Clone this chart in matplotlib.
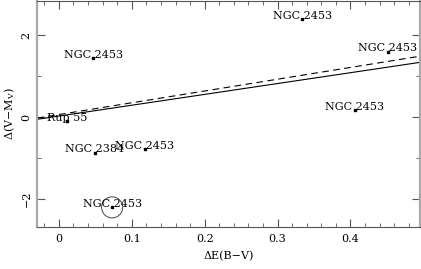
import numpy as np
import matplotlib
matplotlib.use('Agg')
import matplotlib.pyplot as plt
from matplotlib.ticker import MultipleLocator

plt.rcParams['font.family'] = ['DejaVu Serif']
plt.rcParams['mathtext.fontset'] = 'dejavuserif'

# cluster points
names = ['NGC 2453', 'NGC 2453', 'NGC 2453', 'NGC 2453', 'Rup 55',
         'NGC 2384', 'NGC 2453', 'NGC 2453']
dEBV = [0.047, 0.334, 0.451, 0.406, 0.011, 0.049, 0.118, 0.073]
dVM = [1.44, 2.39, 1.59, 0.17, -0.10, -0.87, -0.78, -2.20]
circled = 7

# fitted lines (end points)
fit_x = [-0.03, 0.495]
solid_y = [-0.05, 1.34]
dashed_y = [-0.02, 1.49]

fig = plt.figure(figsize=(4.21, 2.69), dpi=100)
ax = fig.add_axes([0.088, 0.156, 0.909, 0.842])

ax.plot(fit_x, solid_y, color='black', lw=0.8)
ax.plot(fit_x, dashed_y, color='black', lw=0.8, ls=(0, (6, 4)))
ax.scatter(dEBV, dVM, marker='s', s=4, color='black', zorder=3)
for n, x, y in zip(names, dEBV, dVM):
    ax.text(x, y + 0.09, n, ha='center', va='center', fontsize=8)
ax.scatter([dEBV[circled]], [dVM[circled]], s=230, facecolors='none',
           edgecolors='#444444', lw=0.7, zorder=2)

ax.set_xlim(-0.03, 0.495)
ax.set_ylim(-2.68, 2.85)
ax.xaxis.set_major_locator(MultipleLocator(0.1))
ax.xaxis.set_minor_locator(MultipleLocator(0.02))
ax.yaxis.set_major_locator(MultipleLocator(2))
ax.yaxis.set_minor_locator(MultipleLocator(1))
ax.set_xticks([0, 0.1, 0.2, 0.3, 0.4])
ax.set_xticklabels(['0', '0.1', '0.2', '0.3', '0.4'])
ax.set_yticks([-2, 0, 2])
ax.set_yticklabels(['\u22122', '0', '2'], rotation=90, va='center')
ax.tick_params(which='both', direction='in', top=True, right=True,
               labelsize=8, color='#555555')
ax.tick_params(which='major', length=6, width=0.8, pad=5)
ax.tick_params(axis='y', which='major', pad=4)
ax.tick_params(which='minor', length=3, width=0.6)

for s in ['left', 'right']:
    ax.spines[s].set_color('#aaaaaa')
    ax.spines[s].set_linewidth(1.6)
for s in ['top', 'bottom']:
    ax.spines[s].set_color('#555555')
    ax.spines[s].set_linewidth(0.8)

ax.set_xlabel('\u0394E(B\u2212V)', fontsize=8, labelpad=5)
ax.set_ylabel('\u0394(V\u2212M$_{\\mathrm{V}}$)', fontsize=8, labelpad=3)

fig.savefig('out.png', dpi=100)
